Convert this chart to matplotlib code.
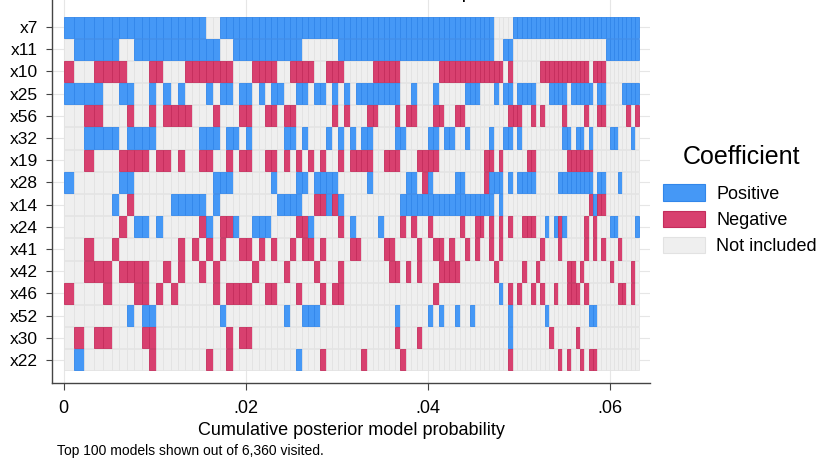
import numpy as np
import matplotlib.pyplot as plt
from matplotlib.patches import Patch

plt.rcParams['font.family'] = ['Liberation Sans', 'DejaVu Sans']

variables = ["x7", "x11", "x10", "x25", "x56", "x32", "x19", "x28",
             "x14", "x24", "x41", "x42", "x46", "x52", "x30", "x22"]

# posterior probability of each of the top models (sorted)
model_prob = [
    0.001143, 0.001121, 0.001077, 0.001011, 0.000923, 0.000835, 0.000824, 0.000813,
    0.000813, 0.000802, 0.000802, 0.000802, 0.000791, 0.000791, 0.000791, 0.000780, 0.000780, 0.000769,
    0.000747, 0.000736, 0.000725, 0.000714, 0.000714, 0.000703, 0.000703, 0.000692, 0.000692, 0.000681, 0.000681, 0.000681,
    0.000670, 0.000670, 0.000670, 0.000659, 0.000659, 0.000659, 0.000659, 0.000659, 0.000659, 0.000648, 0.000648, 0.000648,
    0.000626, 0.000615, 0.000615, 0.000615, 0.000604, 0.000604, 0.000604, 0.000604, 0.000604, 0.000604, 0.000604, 0.000604, 0.000604, 0.000604,
    0.000604, 0.000593, 0.000593, 0.000571, 0.000560, 0.000549, 0.000549, 0.000538, 0.000538, 0.000527, 0.000527, 0.000527, 0.000516, 0.000516, 0.000516,
    0.000516, 0.000505, 0.000505, 0.000505, 0.000495, 0.000495, 0.000495, 0.000495, 0.000495, 0.000484, 0.000484, 0.000484, 0.000484, 0.000484,
    0.000484, 0.000473, 0.000473, 0.000473, 0.000473, 0.000462, 0.000462, 0.000462, 0.000462, 0.000462, 0.000462, 0.000451, 0.000451, 0.000451, 0.000451, 0.000451,
]

# p = positive, n = negative, . = not included (spaces only for reading)
signs = [
    "pppppppp pppppppppp ..pppppppppp pppppppppppp pppppppppppppp pppppppppppp... .ppppppppppppp pppppppppppppppp",
    ".ppppp.. pppppppppp pp..pppppppp ppp......ppp pppppppppppppp pppppppppppp..p p............. ........pppppppp",
    "n..nnnn. ..nn...nnn nnnn...nnnn. .nnnn..nnn.. ...nnnnn...... .nnnnnnnnnnnnn. n......nnnnnnn nnnn.nnn........",
    "pppp..pp ..p.p.p... p.pp.pp.p.pp ..pp.pp.p.p. pppppppp..p... p.....ppp...p.p p.pppp...pppp. ppppp.pp....pppp",
    "..nn...n ..n.nnnn.. .n...nn..nn. nn......n.n. ..nn...n.nn... nn..nn......... nnn..n.n....n. ...n..nn.....n.n",
    "..pppp.p ppp......p pp.pp.p..... pp.p...p.p.p .pp....pp....p p.pp..p....p..p p.p.........pp .pp.p....pp...p.",
    "..n...nn nn.nn.n..n n..n.nn..nn. n.n.n.n..n.n nnn..nnn...nnn n.........nn.n. ....nn.......n nnnnn...........",
    "p.....pp .......... .ppp......p. ..pp.pppp... ..p......pp.np ....pp....nppp. p.pppp.....ppp ppppp.pp...p....",
    ".....p.n .....ppppp .p.........p ppp..nnpnp.. ........pppppp pppppppppppp.p. .............. ....npnn........",
    "......n. pp.p.....n p.nnp..ppp.. ..nnp....n.p ....p...n.n..n .....n..nn.n.n. n..nnn..p.pnp. ...n.n...pp....p",
    "..n..n.. ......n.n. n.n..nn.n.n. .n.nn.n....n n....nn....n.. nn.n..n.n..n.n. .......n...n.. ...n.n.n...n....",
    "..nnn.nn nn..n.n..n .n.....n.... n....n...n.. ......nn.n.n.. .nnnn.......n.. ...n..n......n n.n......n....n.",
    "n...n... nn.n.n.... .n.nnnn..nn. ..n...n.nn.. .............. n............p. n.n..n.n..n..n nn.n.......nn.n.",
    ".......p .pp....... ..p......... p..ppp...... .......p.....p .p..p..p....... p.......p..... ....pp..........",
    ".n.nn... .nn....... ...n.nn..... ............ .......n...n.. ............... p........n.... .n..............",
    ".p...... ..n....... n..n........ ..p...n..... .n......n..... ............... n..........n.n ..n.nn..........",
]

fill = {"p": "#4598f6", "n": "#d8406f", ".": "#efefef"}
edge = {"p": "#3286ea", "n": "#c42d5c", ".": "#e2e2e2"}

probs = np.array(model_prob)
left = np.concatenate([[0], np.cumsum(probs)[:-1]])

fig = plt.figure(figsize=(8.19, 4.61), dpi=100)
ax = fig.add_axes([52 / 819, 1 - 383 / 461, 598 / 819, 383 / 461])

for i, row in enumerate(signs):
    row = row.replace(" ", "")
    assert len(row) == len(probs), (i, len(row))
    ax.barh(i, probs, left=left, height=0.95,
            color=[fill[c] for c in row], edgecolor=[edge[c] for c in row],
            linewidth=0.6, zorder=2)

ax.set_xlim(-11.5 / 9115, 586.5 / 9115)
ax.set_ylim(16.04, -1.22)

ax.set_yticks(range(len(variables)), labels=variables)
ax.set_xticks([0, 0.02, 0.04, 0.06], labels=["0", ".02", ".04", ".06"])
ax.tick_params(axis="y", labelsize=12.5, length=4, color="#444444", pad=6)
ax.tick_params(axis="x", labelsize=13, length=5, color="#444444", pad=7)
ax.grid(True, color="#e6e6e6", linewidth=0.8, zorder=0)
ax.set_axisbelow(True)

for s in ["top", "right"]:
    ax.spines[s].set_visible(False)
for s in ["left", "bottom"]:
    ax.spines[s].set_color("#444444")
    ax.spines[s].set_linewidth(1.0)

ax.set_xlabel("Cumulative posterior model probability", fontsize=13, labelpad=4)

handles = [Patch(facecolor=fill[k], edgecolor=edge[k], linewidth=0.8) for k in "pn."]
fig.text(742 / 819, 1 - 157 / 461, "Coefficient", fontsize=18,
         ha="center", va="center")
fig.legend(handles, ["Positive", "Negative", "Not included"],
           loc="upper left", bbox_to_anchor=(663 / 819, 1 - 184.5 / 461),
           frameon=False, fontsize=13, handlelength=2.3,
           handleheight=1.05, labelspacing=0.42, handletextpad=0.65,
           borderpad=0, borderaxespad=0)

fig.text(57 / 819, 1 - 451 / 461, "Top 100 models shown out of 6,360 visited.",
         fontsize=10, va="center")
fig.text(473 / 819, 1 + 1.5 / 461, "Model inclusion map", fontsize=14,
         ha="right", va="baseline")

fig.savefig("out.png", dpi=100)
